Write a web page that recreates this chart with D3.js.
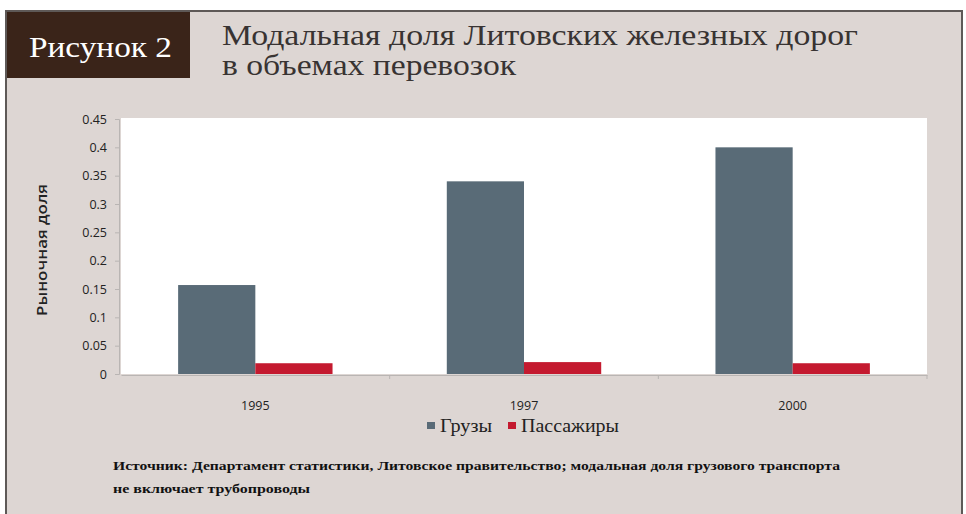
<!DOCTYPE html>
<html lang="ru">
<head>
<meta charset="UTF-8">
<title>Рисунок 2</title>
<script src="https://cdn.jsdelivr.net/npm/d3@7"></script>
<style>
body { margin: 0; background: #fff; }
svg { display: block; }
</style>
</head>
<body>
<svg class="container"></svg>
<script>
// data
const years = ['1995', '1997', '2000'];
const seriesNames = ['Грузы', 'Пассажиры'];
const cargo = [0.157, 0.34, 0.40];
const passengers = [0.019, 0.021, 0.019];
const yTicks = [0, 0.05, 0.1, 0.15, 0.2, 0.25, 0.3, 0.35, 0.4, 0.45];
const colors = ['#596b77', '#c41a2f'];

const width = 966, height = 514;
const svg = d3.select('svg.container')
    .attr('width', width)
    .attr('height', height);

// background panel + frame
svg.append('rect')
    .attr('x', 0).attr('y', 0).attr('width', width).attr('height', height)
    .attr('fill', '#fff');
svg.append('rect')
    .attr('x', 6).attr('y', 11).attr('width', 956).attr('height', 520)
    .attr('fill', '#ddd6d3')
    .attr('stroke', '#5e5957').attr('stroke-width', 2);

// header box
svg.append('rect')
    .attr('x', 7).attr('y', 12).attr('width', 183).attr('height', 66)
    .attr('fill', '#3a2419');
svg.append('text')
    .attr('x', 29).attr('y', 57)
    .attr('fill', '#fff')
    .style('font-family', '"Liberation Serif", serif')
    .style('font-size', '30px')
    .attr('textLength', 143).attr('lengthAdjust', 'spacingAndGlyphs')
    .text('Рисунок 2');

const titleLines = ['Модальная доля Литовских железных дорог', 'в объемах перевозок'];
const titleWidths = [636, 294];
svg.append('g').selectAll('text')
    .data(titleLines)
    .join('text')
    .attr('x', 222)
    .attr('y', (d, i) => 45 + i * 30)
    .attr('fill', '#383332')
    .style('font-family', '"Liberation Serif", serif')
    .style('font-size', '30px')
    .attr('textLength', (d, i) => titleWidths[i])
    .attr('lengthAdjust', 'spacingAndGlyphs')
    .text(d => d);

// plot
const plot = { left: 121, right: 927, top: 118, bottom: 374 };

svg.append('rect')
    .attr('x', plot.left).attr('y', plot.top)
    .attr('width', plot.right - plot.left).attr('height', plot.bottom - plot.top)
    .attr('fill', '#fff');

const x0 = d3.scaleBand()
    .domain(years)
    .range([plot.left, plot.right]);
const x1 = d3.scaleBand()
    .domain(seriesNames)
    .range([0, x0.bandwidth()])
    .paddingOuter(0.74);
const y = d3.scaleLinear()
    .domain([0, 0.45])
    .range([plot.bottom, plot.top + 1]);

const rows = years.map((yr, i) => ({ year: yr, values: [cargo[i], passengers[i]] }));

svg.append('g').selectAll('g')
    .data(rows)
    .join('g')
    .attr('transform', d => 'translate(' + x0(d.year) + ',0)')
    .selectAll('rect')
    .data(d => d.values.map((v, j) => ({ name: seriesNames[j], v: v, j: j })))
    .join('rect')
    .attr('x', d => x1(d.name))
    .attr('width', x1.bandwidth())
    .attr('y', d => y(d.v))
    .attr('height', d => y(0) - y(d.v))
    .attr('fill', d => colors[d.j]);

// y axis
const yAxis = svg.append('g')
    .attr('transform', 'translate(' + (plot.left - 2) + ',0)')
    .call(d3.axisLeft(y).tickValues(yTicks).tickSize(4).tickPadding(8)
        .tickFormat(d => String(+d.toFixed(2))));
yAxis.select('.domain').attr('stroke', '#b9b5b3');
yAxis.selectAll('.tick line').attr('stroke', '#b9b5b3');
yAxis.selectAll('text')
    .attr('fill', '#222')
    .style('font-family', '"Open Sans", sans-serif')
    .style('font-size', '12.5px');

// x axis
const xAxis = svg.append('g')
    .attr('transform', 'translate(0,' + (plot.bottom + 1) + ')')
    .call(d3.axisBottom(x0).tickSize(0).tickPadding(26));
xAxis.select('.domain').attr('stroke', '#b9b5b3');
xAxis.selectAll('text')
    .attr('fill', '#222')
    .style('font-family', '"Open Sans", sans-serif')
    .style('font-size', '12.5px');
// category separators
xAxis.append('g').selectAll('line')
    .data(years.slice(1).map(d => x0(d)).concat([plot.right]))
    .join('line')
    .attr('x1', d => d).attr('x2', d => d)
    .attr('y1', 0).attr('y2', 4)
    .attr('stroke', '#b9b5b3');

// y label
svg.append('text')
    .attr('transform', 'translate(47,250) rotate(-90)')
    .attr('text-anchor', 'middle')
    .attr('fill', '#222')
    .style('font-family', '"Open Sans", sans-serif')
    .style('font-size', '15px')
    .style('font-weight', '600')
    .attr('textLength', 132).attr('lengthAdjust', 'spacingAndGlyphs')
    .text('Рыночная доля');

// legend
const legendX = [427, 508];
const legendW = [52, 98];
const legend = svg.append('g').selectAll('g')
    .data(seriesNames)
    .join('g')
    .attr('transform', (d, i) => 'translate(' + legendX[i] + ',425)');
legend.append('rect')
    .attr('x', 0).attr('y', -3).attr('width', 8).attr('height', 7)
    .attr('fill', (d, i) => colors[i]);
legend.append('text')
    .attr('x', 13).attr('y', 7)
    .attr('fill', '#222')
    .style('font-family', '"Liberation Serif", serif')
    .style('font-size', '18px')
    .attr('textLength', (d, i) => legendW[i]).attr('lengthAdjust', 'spacingAndGlyphs')
    .text(d => d);

// source note
const sourceLines = [
    'Источник: Департамент статистики, Литовское правительство; модальная доля грузового транспорта',
    'не включает трубопроводы'
];
const sourceWidths = [727, 197];
svg.append('g').selectAll('text')
    .data(sourceLines)
    .join('text')
    .attr('x', 113)
    .attr('y', (d, i) => 470 + i * 23)
    .attr('fill', '#111')
    .style('font-family', '"Liberation Serif", serif')
    .style('font-size', '13.5px')
    .style('font-weight', 'bold')
    .attr('textLength', (d, i) => sourceWidths[i])
    .attr('lengthAdjust', 'spacingAndGlyphs')
    .text(d => d);
</script>
</body>
</html>
